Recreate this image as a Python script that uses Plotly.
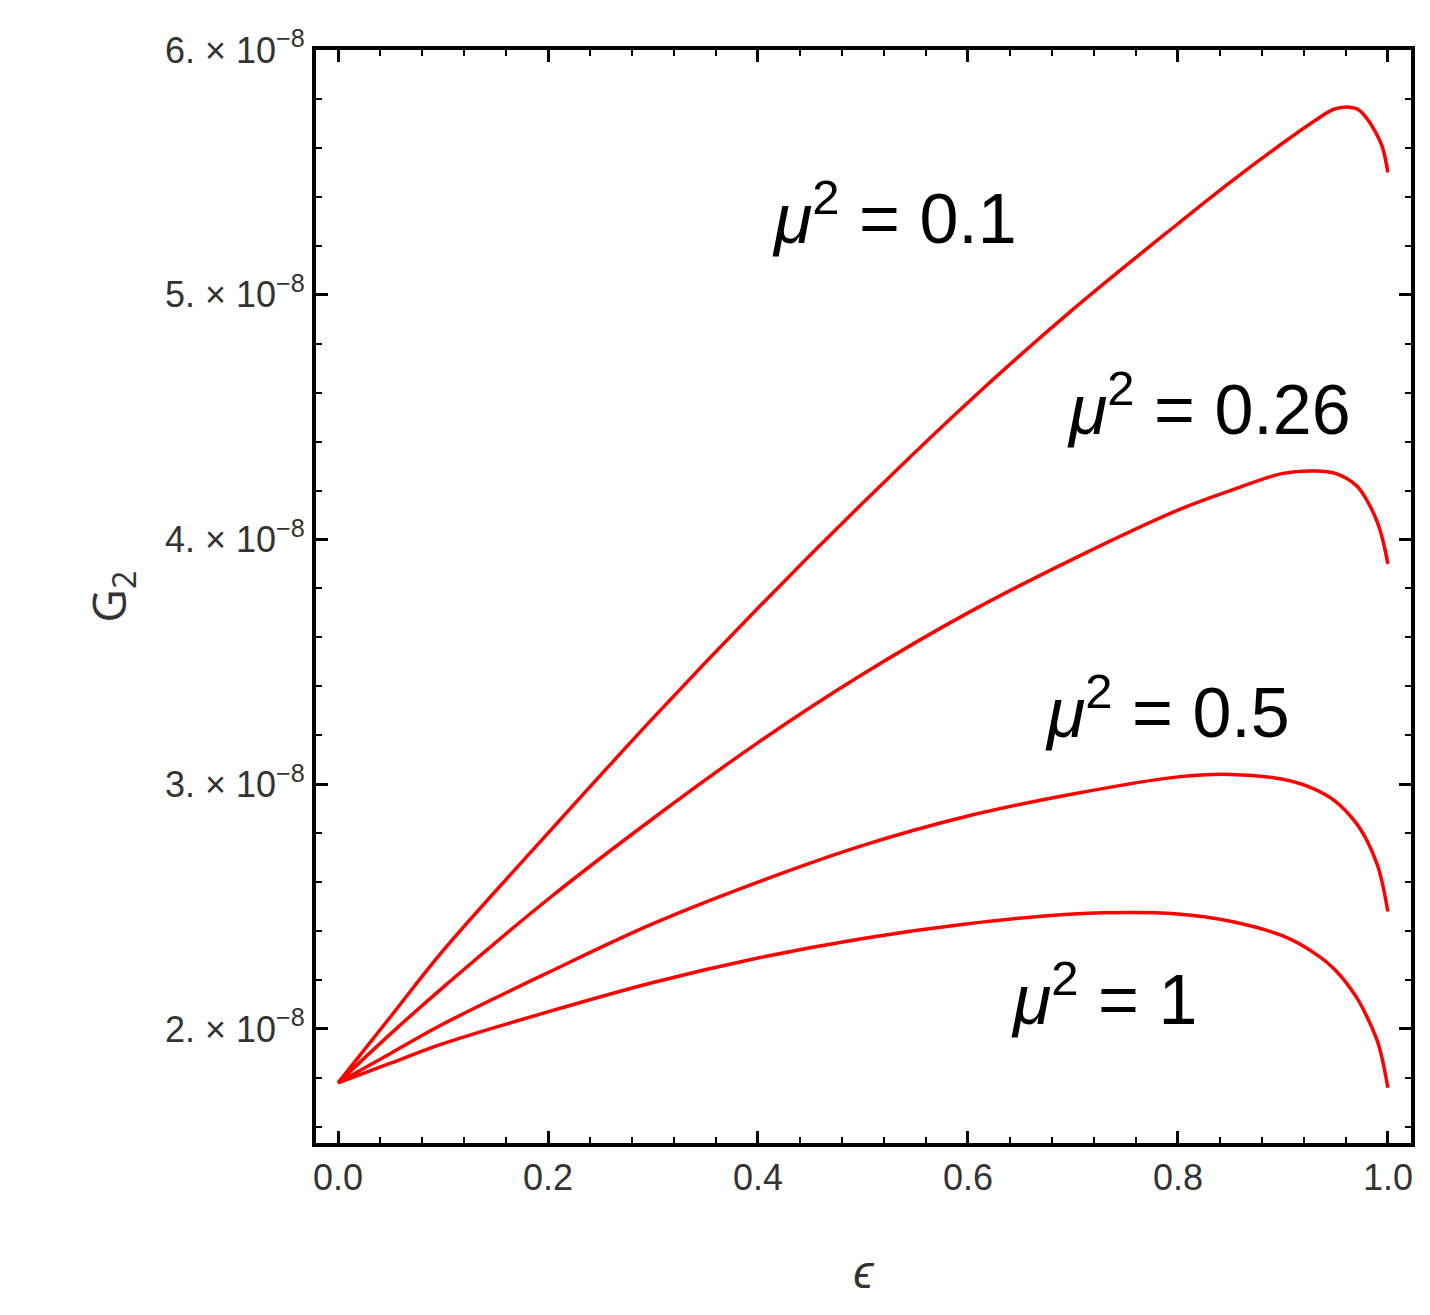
import plotly.graph_objects as go

eps = [0.0, 0.05, 0.1, 0.2, 0.3, 0.4, 0.5, 0.6, 0.7, 0.8, 0.85, 0.9, 0.93, 0.95, 0.97, 0.98, 0.99, 0.995, 1.0]
g_01 = [1.78, 2.05, 2.32, 2.80, 3.27, 3.72, 4.15, 4.56, 4.94, 5.29, 5.46, 5.62, 5.71, 5.76, 5.76, 5.72, 5.65, 5.60, 5.50]
g_026 = [1.78, 1.98, 2.17, 2.53, 2.86, 3.17, 3.45, 3.70, 3.92, 4.12, 4.20, 4.27, 4.28, 4.27, 4.22, 4.16, 4.07, 4.00, 3.90]
g_05 = [1.78, 1.90, 2.02, 2.23, 2.43, 2.60, 2.75, 2.87, 2.96, 3.03, 3.04, 3.02, 2.98, 2.93, 2.84, 2.77, 2.67, 2.59, 2.48]
g_1 = [1.78, 1.86, 1.94, 2.07, 2.19, 2.29, 2.37, 2.43, 2.47, 2.47, 2.44, 2.38, 2.31, 2.24, 2.13, 2.05, 1.95, 1.87, 1.76]
labels = ["0.1", "0.26", "0.5", "1"]
label_pos = [(0.53, 5.33), (0.83, 4.55), (0.79, 3.31), (0.73, 2.14)]
yticks = [2, 3, 4, 5, 6]
xticks = [0.0, 0.2, 0.4, 0.6, 0.8, 1.0]

fig = go.Figure()
for g in [g_01, g_026, g_05, g_1]:
    fig.add_trace(go.Scatter(x=eps, y=[v * 1e-8 for v in g], mode="lines",
                             line=dict(color="#ff0000", width=3.5, shape="spline", smoothing=1.0),
                             showlegend=False))
for lab, (x, y) in zip(labels, label_pos):
    fig.add_annotation(x=x, y=y * 1e-8, text="<i>μ</i><sup>2</sup> = " + lab, showarrow=False,
                       xanchor="center", font=dict(size=70, color="black", family="Liberation Sans"))

axis_common = dict(showline=True, linecolor="black", linewidth=4, mirror="ticks",
                   ticks="inside", ticklen=12, tickwidth=3, tickcolor="black",
                   showgrid=False, zeroline=False,
                   minor=dict(ticks="inside", ticklen=6, tickwidth=2, tickcolor="black"),
                   tickfont=dict(size=36, color="#333", family="Liberation Sans"))
fig.update_xaxes(range=[-0.021, 1.022], tickvals=xticks, ticktext=[f"{t:.1f}" for t in xticks],
                 minor_dtick=0.04, title=dict(text="<i>ϵ</i>", font=dict(size=46, color="#333"), standoff=60),
                 **axis_common)
fig.update_yaxes(range=[1.534e-8, 6.0e-8], tickvals=[t * 1e-8 for t in yticks],
                 ticktext=[f"{t}. × 10<sup>−8</sup>" for t in yticks], minor_dtick=0.2e-8,
                 title=dict(text="G<sub>2</sub>", font=dict(size=46, color="#333"), standoff=25),
                 **axis_common)
fig.update_layout(width=1430, height=1315, margin=dict(l=308, r=27, t=42, b=180),
                  plot_bgcolor="white", paper_bgcolor="white")
fig.write_html("out.html")
